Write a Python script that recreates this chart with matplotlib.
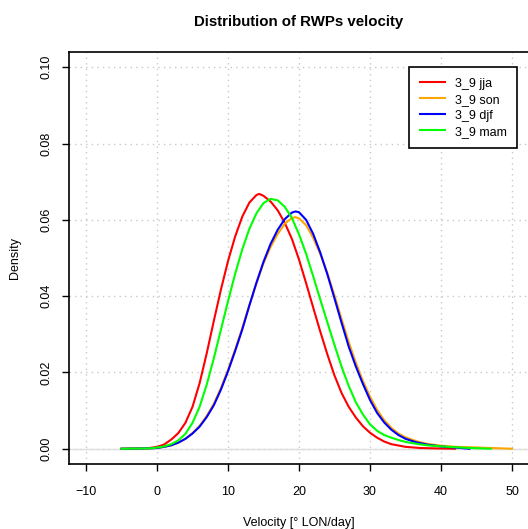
import matplotlib
matplotlib.use('Agg')
import matplotlib.pyplot as plt

plt.rcParams['font.family'] = ['Liberation Sans', 'DejaVu Sans']

# density curves (x in deg LON/day, y = density)
x_jja = [-5, -3, -1, 0, 1, 2, 3, 4, 5, 6, 7, 8, 9, 10, 11, 12, 13, 14, 14.4, 15, 16, 17,
         18, 19, 20, 21, 22, 23, 24, 25, 26, 27, 28, 29, 30, 31, 32, 33, 35, 37, 39, 42]
y_jja = [0, 0.00005, 0.0002, 0.0005, 0.0011, 0.0024, 0.0041, 0.0068, 0.0110, 0.0172,
         0.0250, 0.0335, 0.0417, 0.0492, 0.0556, 0.0608, 0.0645, 0.0665, 0.0668, 0.0663,
         0.0648, 0.0625, 0.0592, 0.0550, 0.0496, 0.0434, 0.0370, 0.0307, 0.0247, 0.0192,
         0.0146, 0.0110, 0.0082, 0.0059, 0.0042, 0.0029, 0.0019, 0.0012, 0.0005, 0.0002,
         0.0001, 0]

x_son = [-5, -3, -1, 0, 1, 2, 3, 4, 5, 6, 7, 8, 9, 10, 11, 12, 13, 14, 15, 16, 17, 18, 19,
         19.5, 20, 21, 22, 23, 24, 25, 26, 27, 28, 29, 30, 31, 32, 33, 34, 35, 36.5, 38, 40,
         42, 44, 47, 50]
y_son = [0, 0.00005, 0.0001, 0.0002, 0.0005, 0.0009, 0.0016, 0.0026, 0.0041, 0.0060,
         0.0086, 0.0118, 0.0159, 0.0207, 0.0260, 0.0316, 0.0376, 0.0433, 0.0486, 0.0529,
         0.0563, 0.0590, 0.0605, 0.0607, 0.0604, 0.0586, 0.0553, 0.0510, 0.0460, 0.0402,
         0.0340, 0.0280, 0.0226, 0.0178, 0.0137, 0.0102, 0.0075, 0.0055, 0.0040, 0.0030,
         0.0020, 0.0013, 0.0008, 0.0005, 0.0004, 0.0002, 0]

x_djf = [-5, -3, -1, 0, 1, 2, 3, 4, 5, 6, 7, 8, 9, 10, 11, 12, 13, 14, 15, 16, 17, 18, 19,
         19.5, 20, 21, 22, 23, 24, 25, 26, 27, 28, 29, 30, 31, 32, 33, 34, 35, 36.5, 38, 40,
         42, 44]
y_djf = [0, 0.00005, 0.0001, 0.0002, 0.0005, 0.0009, 0.0016, 0.0026, 0.0040, 0.0058,
         0.0083, 0.0114, 0.0155, 0.0203, 0.0256, 0.0312, 0.0375, 0.0435, 0.0490, 0.0537,
         0.0574, 0.0602, 0.0619, 0.0622, 0.0620, 0.0600, 0.0563, 0.0514, 0.0457, 0.0394,
         0.0330, 0.0268, 0.0216, 0.0170, 0.0128, 0.0094, 0.0069, 0.0050, 0.0036, 0.0026,
         0.0017, 0.0011, 0.0006, 0.0003, 0]

x_mam = [-5, -3, -1, 0, 1, 2, 3, 4, 5, 6, 7, 8, 9, 10, 11, 12, 13, 14, 15, 16, 17, 18, 19,
         20, 21, 22, 23, 24, 25, 26, 27, 28, 29, 30, 31, 32, 33, 34, 35, 36.5, 38, 41, 44, 47]
y_mam = [0, 0.00005, 0.0001, 0.0003, 0.0006, 0.0012, 0.0022, 0.0039, 0.0068, 0.0110,
         0.0168, 0.0237, 0.0312, 0.0387, 0.0458, 0.0522, 0.0576, 0.0617, 0.0644, 0.0655,
         0.0651, 0.0634, 0.0605, 0.0562, 0.0511, 0.0452, 0.0391, 0.0331, 0.0272, 0.0215,
         0.0165, 0.0122, 0.0090, 0.0064, 0.0047, 0.0036, 0.0029, 0.0023, 0.0018, 0.0013,
         0.0009, 0.0005, 0.0002, 0]

labels = ['3_9 jja', '3_9 son', '3_9 djf', '3_9 mam']
colors = ['#ff0000', '#ffa500', '#0000ff', '#00ff00']
xticks = [-10, 0, 10, 20, 30, 40, 50]
yticks = [0.00, 0.02, 0.04, 0.06, 0.08, 0.10]

fig = plt.figure(figsize=(5.28, 5.29), dpi=100)
ax = fig.add_axes([69 / 528., 1 - 464 / 529., 460 / 528., 412 / 529.])

ax.set_xlim(-12.4, 52.4)
ax.set_ylim(-0.004, 0.104)

# R style dotted grid + zero line
for t in xticks:
    ax.axvline(t, color='#c8c8c8', lw=1, ls=(0, (1, 3)), zorder=0)
for t in yticks:
    ax.axhline(t, color='#c8c8c8', lw=1, ls=(0, (1, 3)), zorder=0)
ax.axhline(0, color='#dddddd', lw=1, zorder=0)

series = [(x_jja, y_jja), (x_son, y_son), (x_djf, y_djf), (x_mam, y_mam)]
for (xs, ys), c, lab in zip(series, colors, labels):
    ax.plot(xs, ys, color=c, lw=1.5, label=lab, solid_joinstyle='round')

ax.set_xticks(xticks)
ax.set_xticklabels([str(t).replace('-', '\u2212') for t in xticks])
ax.set_yticks(yticks)
ax.set_yticklabels(['%.2f' % t for t in yticks], rotation=90, va='center')
ax.tick_params(direction='out', length=5, width=1, labelsize=9)
ax.tick_params(axis='x', pad=11)
ax.tick_params(axis='y', pad=7)
for s in ax.spines.values():
    s.set_linewidth(1.2)

ax.set_title('Distribution of RWPs velocity', fontsize=10.8, fontweight='bold', pad=18.5)
ax.set_xlabel('Velocity [\u00b0 LON/day]', fontsize=9, labelpad=13.5)
ax.set_ylabel('Density', fontsize=9, labelpad=14)

leg = ax.legend(loc='upper right', bbox_to_anchor=(0.974, 0.9636), fontsize=9,
                fancybox=False, framealpha=1, edgecolor='black', handlelength=2.0,
                handletextpad=0.8, borderpad=0.85, labelspacing=0.32, borderaxespad=0)
leg.get_frame().set_linewidth(1.2)

fig.savefig('out.png', dpi=100)
